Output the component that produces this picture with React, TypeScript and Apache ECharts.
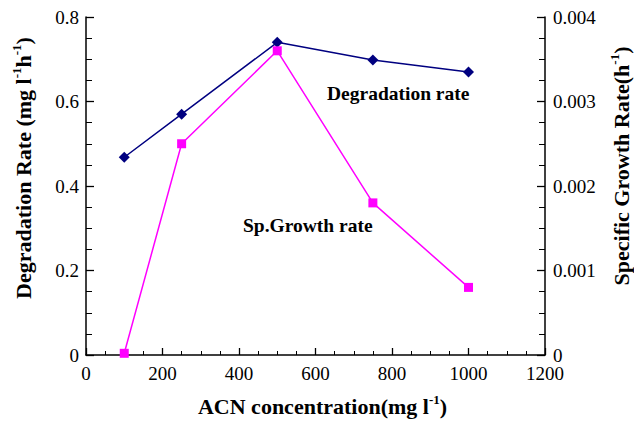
import React, { useEffect, useRef } from "react";
import * as echarts from "echarts";

const concentrations = [100, 250, 500, 750, 1000];
const degradationRate = [0.468, 0.57, 0.74, 0.698, 0.67];
const growthRate = [0.00002, 0.0025, 0.0036, 0.0018, 0.0008];

const FONT = "Liberation Serif";

export default function App() {
  const ref = useRef<HTMLDivElement>(null);
  useEffect(() => {
    document.body.style.margin = "0";
    const chart = echarts.init(ref.current!, null, { renderer: "svg" });
    const axisCommon = {
      axisLine: { show: true, onZero: false, lineStyle: { color: "#000", width: 1.5 } },
      axisTick: { show: true, inside: true, length: 8, lineStyle: { color: "#000", width: 1.3 } },
      minorTick: { show: true, splitNumber: 4, length: 6, lineStyle: { color: "#000", width: 1 } },
      splitLine: { show: false },
      axisLabel: { color: "#000", fontFamily: FONT, fontSize: 19, formatter: (v: number) => String(v) },
    };
    const supRich = {
      s: { fontSize: 13, fontFamily: FONT, fontWeight: "bold", color: "#000", verticalAlign: "top", lineHeight: 24 },
      n: { fontSize: 22, fontFamily: FONT, fontWeight: "bold", color: "#000", verticalAlign: "bottom", lineHeight: 24 },
    };
    chart.setOption({
      animation: false,
      grid: { left: 86, right: 89, top: 17, bottom: 66, containLabel: false, outerBoundsMode: "none" },
      xAxis: {
        type: "value",
        min: 0,
        max: 1200,
        interval: 200,
        ...axisCommon,
        axisTick: { ...axisCommon.axisTick, length: 7 },
        minorTick: { ...axisCommon.minorTick, length: 4 },
        axisLabel: { ...axisCommon.axisLabel, margin: 9 },
        name: "{n|ACN concentration(mg l}{s|-1}{n|)}",
        nameLocation: "middle",
        nameGap: 38,
        nameTextStyle: { rich: supRich, padding: [0, 0, 0, 14] },
      },
      yAxis: [
        {
          type: "value",
          min: 0,
          max: 0.8,
          interval: 0.2,
          position: "left",
          ...axisCommon,
          axisLabel: { ...axisCommon.axisLabel, margin: 7 },
          name: "{n|Degradation Rate (mg l}{s|-1}{n|h}{s|-1}{n|)}",
          nameLocation: "middle",
          nameRotate: 90,
          nameGap: 52,
          nameTextStyle: { rich: supRich, padding: [0, 0, 0, 36] },
        },
        {
          type: "value",
          min: 0,
          max: 0.004,
          interval: 0.001,
          position: "right",
          ...axisCommon,
          axisLabel: { ...axisCommon.axisLabel, margin: 8 },
          name: "{n|Specific Growth Rate(h}{s|-1}{n|)}",
          nameLocation: "middle",
          nameRotate: 90,
          nameGap: 63,
          nameTextStyle: { rich: supRich, padding: [0, 0, 0, 40] },
        },
      ],
      series: [
        {
          type: "line",
          name: "Degradation rate",
          yAxisIndex: 0,
          data: concentrations.map((c, i) => [c, degradationRate[i]]),
          symbol: "diamond",
          symbolSize: 11,
          lineStyle: { color: "#000080", width: 1.5 },
          itemStyle: { color: "#000080" },
        },
        {
          type: "line",
          name: "Sp.Growth rate",
          yAxisIndex: 1,
          data: concentrations.map((c, i) => [c, growthRate[i]]),
          symbol: "rect",
          symbolSize: 9,
          lineStyle: { color: "#ff00ff", width: 1.5 },
          itemStyle: { color: "#ff00ff" },
        },
      ],
      graphic: [
        {
          type: "text",
          left: 327,
          top: 83,
          style: { text: "Degradation rate", fontFamily: FONT, fontWeight: "bold", fontSize: 19.5, fill: "#000" },
        },
        {
          type: "text",
          left: 243,
          top: 215,
          style: { text: "Sp.Growth rate", fontFamily: FONT, fontWeight: "bold", fontSize: 19.5, fill: "#000" },
        },
      ],
    });
    return () => chart.dispose();
  }, []);
  return <div ref={ref} style={{ width: 634, height: 421, overflow: "hidden" }} />;
}
